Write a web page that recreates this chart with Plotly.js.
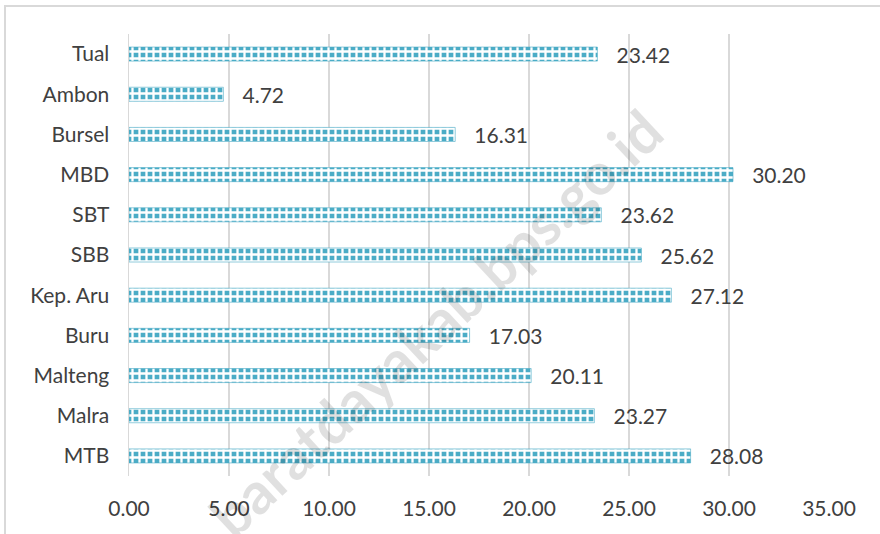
<!DOCTYPE html>
<html>
<head>
<meta charset="utf-8">
<script src="https://cdn.plot.ly/plotly-3.0.1.min.js"></script>
<style>
html,body{margin:0;padding:0;background:#fff;}
#wrap{position:relative;width:880px;height:534px;overflow:hidden;}
#frame{position:absolute;left:4px;top:5px;width:900px;height:600px;border-left:2px solid #d9d9d9;border-top:2px solid #d9d9d9;box-sizing:border-box;pointer-events:none;}
#chart{position:absolute;left:0;top:0;width:880px;height:534px;}
</style>
</head>
<body>
<div id="wrap">
<div id="chart"></div>
<div id="frame"></div>
</div>
<script>
const categories = ["MTB","Malra","Malteng","Buru","Kep. Aru","SBB","SBT","MBD","Bursel","Ambon","Tual"];
const values = [28.08,23.27,20.11,17.03,27.12,25.62,23.62,30.20,16.31,4.72,23.42];
const tickVals = [0,5,10,15,20,25,30,35];
const tickText = ["0.00","5.00","10.00","15.00","20.00","25.00","30.00","35.00"];

const fontFam = "Lato, 'Open Sans', sans-serif";
const trace = {
  type: "bar",
  orientation: "h",
  y: categories,
  x: values,
  width: 0.35,
  text: values.map(v => "\u00a0\u00a0\u00a0" + v.toFixed(2)),
  textposition: "outside",
  constraintext: "none",
  cliponaxis: false,
  textfont: {family: fontFam, size: 21, color: "#404040"},
  marker: {
    color: "#4bacc6",
    pattern: {shape: "+", fgcolor: "#ffffff", bgcolor: "#4bacc6", size: 7, solidity: 0.55, fillmode: "replace"},
    line: {color: "rgba(75,172,198,0.6)", width: 1}
  },
  hoverinfo: "skip"
};

const layout = {
  width: 880, height: 534,
  margin: {l: 129, r: 51, t: 34, b: 58},
  paper_bgcolor: "rgba(0,0,0,0)",
  plot_bgcolor: "rgba(0,0,0,0)",
  showlegend: false,
  xaxis: {
    range: [0, 35],
    tickvals: tickVals,
    ticktext: tickText,
    showgrid: true,
    gridcolor: "#d9d9d9",
    gridwidth: 1.5,
    zeroline: false,
    showline: false,
    ticks: "",
    ticklabelstandoff: 18,
    tickfont: {family: fontFam, size: 21, color: "#404040"},
    fixedrange: true
  },
  yaxis: {
    categoryorder: "array",
    categoryarray: categories,
    showgrid: false,
    zeroline: false,
    showline: true,
    linecolor: "#d9d9d9",
    linewidth: 1.5,
    ticks: "",
    ticklabelstandoff: 14,
    tickfont: {family: fontFam, size: 21, color: "#404040"},
    fixedrange: true
  },
  annotations: [{
    text: "<b>baratdayakab.bps.go.id</b>",
    xref: "paper", yref: "paper",
    x: 0.437, y: 0.348,
    xanchor: "center", yanchor: "middle",
    showarrow: false,
    textangle: -43,
    font: {family: fontFam, size: 58, color: "rgba(0,0,0,0.12)"}
  }]
};

Plotly.newPlot("chart", [trace], layout, {staticPlot: true, displayModeBar: false});
</script>
</body>
</html>
